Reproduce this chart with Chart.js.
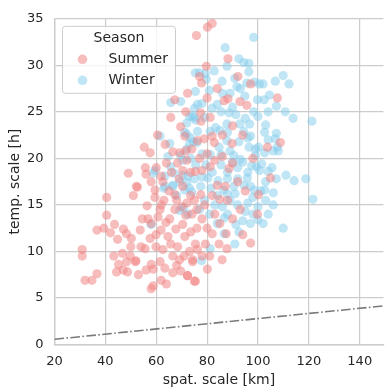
<!DOCTYPE html>
<html>
<head>
<meta charset="utf-8">
<script src="https://cdn.jsdelivr.net/npm/chart.js@4"></script>
<style>
  body { margin: 0; background: #fff; }
  #wrap { width: 388px; height: 387px; }
</style>
</head>
<body>
<div id="wrap"><canvas id="myChart"></canvas></div>
<script>
// values: [spat. scale km, temp. scale h]
const summerPoints = [
  [30.9,10.2],[30.9,9.5],[32,6.9],[34.7,6.9],[36.7,7.6],[36.7,12.3],[39.4,12.5],[40.5,13.9],[40.5,15.8],[42,12],
  [43.6,12.9],[44.8,11.3],[43.3,9.5],[44.4,7.8],[45.2,8.6],[46.7,9.8],[47.1,12.4],[48.3,11.9],[48.3,8.9],[48.7,7.8],
  [49.8,9.5],[50.2,11.4],[51,16],[51.8,8.9],[52.6,16.9],[53.7,12.3],[54.5,13.5],[55.6,10.3],[56.4,14.9],[56.8,13.5],
  [57.6,11.4],[58,8.6],[58.8,8.1],[58,6],[58.8,6.3],[59.5,16.6],[59.5,15.8],[59.9,10.5],[59.9,11.8],[60.7,13.7],
  [61.5,14.5],[61.5,8.9],[61.9,6.9],[61.9,12.3],[62.6,10.2],[63.4,8.2],[63.8,13.1],[64.6,11.6],[65.3,13.5],[65.7,10.8],
  [66.5,7.7],[66.5,9.5],[67.3,14.5],[67.7,12.4],[68.4,10.5],[69.2,9.1],[69.6,7.9],[70.4,12.9],[71.2,11.6],[71.6,13.9],
  [72.3,7.4],[73.1,10],[73.5,12.1],[74.3,9.1],[75,6.8],[75.4,10.8],
  [49,18.4],[52.2,17],[55.3,21.2],[57.6,20.6],[55.7,19],[56,18.3],[61.9,18.1],[62.6,17.5],[65.7,24.4],[67.3,26.3],
  [72.3,27],[71.6,25],[69.6,23.4],[71.2,22.4],[66.5,20.7],[68.4,19.5],[69.2,20.6],[71.6,20.8],[70.4,18.7],[67.3,16.1],
  [70.4,17],[73.5,18.5],[73.5,16],[75.8,33.2],[80.1,34.1],[82,34.5],[88.2,30.7],[79.7,29.9],[77,28.8],[77.8,28.1],
  [92.1,28.8],[97.1,28],[88.2,26.4],[86.7,26.2],[92.9,26.1],[95.6,25.7],[107.6,26.5],[77.4,24.9],[77.6,24],[81.2,24.4],
  [76.2,21.9],[78.9,22.1],[82,22.4],[82.8,21.7],[89.8,21.6],[103.7,21.2],[108.8,21.7],[75.4,18.6],[78,18.7],[81.2,19.1],
  [88.6,18.9],[84,17.1],[87.1,17],[104.9,17.9],[100.2,16.1],[77.5,16.1],[85,15.6],
  [80.1,8.1],[75.4,6.8],[72.3,7.4],[85.9,9.1],[87.8,10.3],[84.7,10.8],[87.5,11.9],[94,11.8],[97.1,10.9],[99.8,14],
  [82,11.9],[79.3,10.8],[76.2,10.2],[74.3,8.9],[76,12.5],[78,13.5],[80,12.5],[83,14],[85,13],[79,15],
  [82,16],[76,14.5],[78,9.5],[81,9.5],
  [63,15.5],[65,16.5],[68,15.5],[70,14.8],[72,15.2],[74,14],[66,18.5],[64,19.5],[60,19],[58,17.5],
  [62,15],[69,17.8],[72,19.8],[74,21],[77,20],[80,20.5],[83,19.8],[86,20.2],[90,19.5],[92,17.5],
  [95,16.5],[93,14.5],[90,13.5],[88,15.5],[86,22.5],[80,26.5],[84,27.5],[90,23.5],[98,20],[94,22.5],
  [63.5,21.5],[60.5,22.5],[58,13],[54,10.5],[52,9],[56,8],[53,7.5],[50,10.5],[47,8],[64,6.5],
  [68,8.5],[71,9.5],[75,15.5]
];
const winterPoints = [
  [65.7,26],[69.6,26.1],[61.5,22.4],[65.3,21.6],[71.2,22.8],[73.1,21.6],[74.5,21.8],[64.6,20.2],[65.7,19.1],[69.6,20.3],
  [73.5,20],[59.5,18.7],[58.8,18.4],[63.4,18.1],[67,18.4],[70.4,18.2],[63.4,17],[66.5,17.1],[69.2,17.5],[71.2,16.6],
  [68,16],[73,16.8],[75,24.4],[73.1,24.5],[75.4,29.2],[75,25.4],[75.4,27.2],[58,12.9],[63,16.8],[66.5,17],
  [69.2,14.4],[70.7,14.7],[72.5,14],
  [98.3,33],[87.1,31.9],[92.5,30.7],[94.4,30.3],[96.4,30.2],[87.8,29.9],[82.8,29.4],[96.4,29.3],[77,29.2],[79.3,29.1],
  [79.7,28.5],[85.9,28.3],[90.9,28.6],[91.7,27.7],[95.6,28.1],[98.7,28.2],[100.6,28],[102,28],[106.8,28.3],[109.9,28.9],
  [112.2,28],[80.9,27.3],[94.8,26.7],[99.8,26.3],[102.4,26.3],[104.5,26.8],[76.2,25.8],[78,25.9],[84,25.8],[82,25.4],
  [85.5,25],[88.6,24.9],[91.3,24.7],[98.3,25],[107.2,25.6],[110.7,25],[113.8,24.3],[121.2,24],[74.3,24.5],[75.5,24.1],
  [79,24.4],[72,23.8],[72,22.6],[76.2,22.9],[81.2,22.9],[83.3,23.3],[87.8,23.7],[92.9,23.7],[96.7,23.7],[103,23.6],
  [94.4,22.9],[102.6,22.8],[97.1,22.4],[107.2,22.7],[87.8,21.9],[92.5,21.8],[96,22.2],[84.7,21.2],[89,20.8],[96.5,21.2],
  [100.2,21.2],[106.8,22.1],[107.6,21.2],[108,20.8],[106,20.8],[76,21.7],[73.5,22.2],[72,21],[78,20.5],[81.2,20.4],
  [85.5,20.4],[90.5,20.3],[93,19.9],[99,20.3],[102.6,20.6],[99.4,19.1],[70.5,19.8],[75.5,19.3],[79.5,19.3],[85.5,19.3],
  [90,19.6],[94,19.6],[97.5,19.2],[101.5,19.4],[72.5,18.1],[80.3,17.9],[84.3,17.6],[88,17.8],[92,17.8],[95.8,17.9],
  [100.6,18.7],[104,18.6],[111,18.2],[114.2,17.6],[118.8,17.8],[121.6,15.6],[107.2,17.8],[102.6,16.6],[106,16.3],[98.5,16.6],
  [94.5,17.1],[90.5,17],[86.5,16.6],[81.5,16.8],[77.5,17],[74,16.4],[72,17.4],
  [109.9,12.5],[91.3,12.9],[90.9,10.8],[81.2,10.3],[77.8,9],[92.5,12.1],[86.7,13.6],[86.7,11.9],
  [98,15.8],[96,15.2],[100,14.8],[103,15.5],[101,16.5],[98,14],[95,14.3],[92,15],[89,15.5],[86,14.8],
  [83,15],[81,14],[79,15.5],[77,14.5],[84,13],[88,14],[94,13.3],[97,13],[100,13.4],[104,14],
  [106,15],[102,13],[88,16.2],[91,16.2],[84,16],[97,17],[103,17.5],[105.5,19],[96,18.5],[88,18.5],
  [82,18.5],[78,18],[75,17.8],[92,19],[99,21],[104,22],[88,22.8],[85,23],[90,25.5],[95,24.3],
  [100,24.5],[104,25],[89,27],[86,27],[93,27.5]
];
const refLineX = [20, 150];
const refLineY = [0.56, 4.17];

const seasons = ['Summer', 'Winter'];
const seasonColors = ['rgba(240,128,128,0.52)', 'rgba(135,206,235,0.52)'];
const xTicks = [20, 40, 60, 80, 100, 120, 140];
const yTicks = [0, 5, 10, 15, 20, 25, 30, 35];

const textColor = '#262626';
const gridColor = '#cccccc';
const font = 'DejaVu Sans';

function toXY(arr) {
  return arr.map(p => ({x: p[0], y: p[1]}));
}

// legend box like seaborn's, top-left inside the axes
const seasonLegend = {
  id: 'seasonLegend',
  afterDraw(chart) {
    const ctx = chart.ctx;
    const area = chart.chartArea;
    const left = area.left + 8, top = area.top + 7.5;
    const w = 113, h = 67;
    ctx.save();
    ctx.beginPath();
    ctx.roundRect(left, top, w, h, 3);
    ctx.fillStyle = 'rgba(255,255,255,0.8)';
    ctx.fill();
    ctx.strokeStyle = gridColor;
    ctx.lineWidth = 1;
    ctx.stroke();
    ctx.fillStyle = textColor;
    ctx.font = '14px "' + font + '"';
    ctx.textBaseline = 'middle';
    ctx.textAlign = 'center';
    ctx.fillText('Season', left + w / 2, top + 12.5);
    ctx.textAlign = 'left';
    seasons.forEach((s, i) => {
      const cy = top + 33 + i * 21;
      ctx.beginPath();
      ctx.arc(left + 20, cy, 4.8, 0, Math.PI * 2);
      ctx.fillStyle = seasonColors[i];
      ctx.fill();
      ctx.fillStyle = textColor;
      ctx.fillText(s, left + 46, cy + 0.5);
    });
    ctx.restore();
  }
};

const ctx = document.getElementById('myChart').getContext('2d');
const myChart = new Chart(ctx, {
  type: 'scatter',
  data: {
    datasets: [{
      label: seasons[0],
      data: toXY(summerPoints),
      backgroundColor: seasonColors[0],
      pointBorderWidth: 0,
      pointBorderColor: 'rgba(0,0,0,0)',
      pointRadius: 4.6
    }, {
      label: seasons[1],
      data: toXY(winterPoints),
      backgroundColor: seasonColors[1],
      pointBorderWidth: 0,
      pointBorderColor: 'rgba(0,0,0,0)',
      pointRadius: 4.6
    }, {
      type: 'line',
      label: 'ref',
      data: refLineX.map((x, i) => ({x: x, y: refLineY[i]})),
      borderColor: '#7a7a7a',
      borderWidth: 1.6,
      borderDash: [9.6, 2.4, 1.6, 2.4],
      pointRadius: 0,
      fill: false
    }]
  },
  options: {
    responsive: true,
    maintainAspectRatio: false,
    animation: false,
    layout: { padding: { top: 12, right: 0, left: 0, bottom: 0 } },
    plugins: { legend: { display: false }, tooltip: { enabled: false } },
    scales: {
      x: {
        type: 'linear',
        position: 'bottom',
        min: 20,
        max: 149.3,
        afterBuildTicks: s => { s.ticks = xTicks.map(v => ({value: v})); },
        afterFit: s => { s.height = 42.5; },
        grid: { color: gridColor, lineWidth: 1.2, drawTicks: false },
        border: { color: gridColor, width: 1.4 },
        ticks: { color: textColor, padding: 9, font: { family: font, size: 13 } },
        title: {
          display: true, text: 'spat. scale [km]', color: textColor,
          padding: { top: 0, bottom: 0 }, font: { family: font, size: 14, lineHeight: 1 }
        }
      },
      y: {
        type: 'linear',
        min: 0,
        max: 35,
        afterBuildTicks: s => { s.ticks = yTicks.map(v => ({value: v})); },
        afterFit: s => { s.width = 54.5; },
        grid: { color: gridColor, lineWidth: 1.2, drawTicks: false },
        border: { color: gridColor, width: 1.4 },
        ticks: { color: textColor, padding: 11, font: { family: font, size: 13 } },
        title: {
          display: true, text: 'temp. scale [h]', color: textColor,
          padding: { top: 8, bottom: 8 }, font: { family: font, size: 14, lineHeight: 1 }
        }
      }
    }
  },
  plugins: [seasonLegend]
});
</script>
</body>
</html>
